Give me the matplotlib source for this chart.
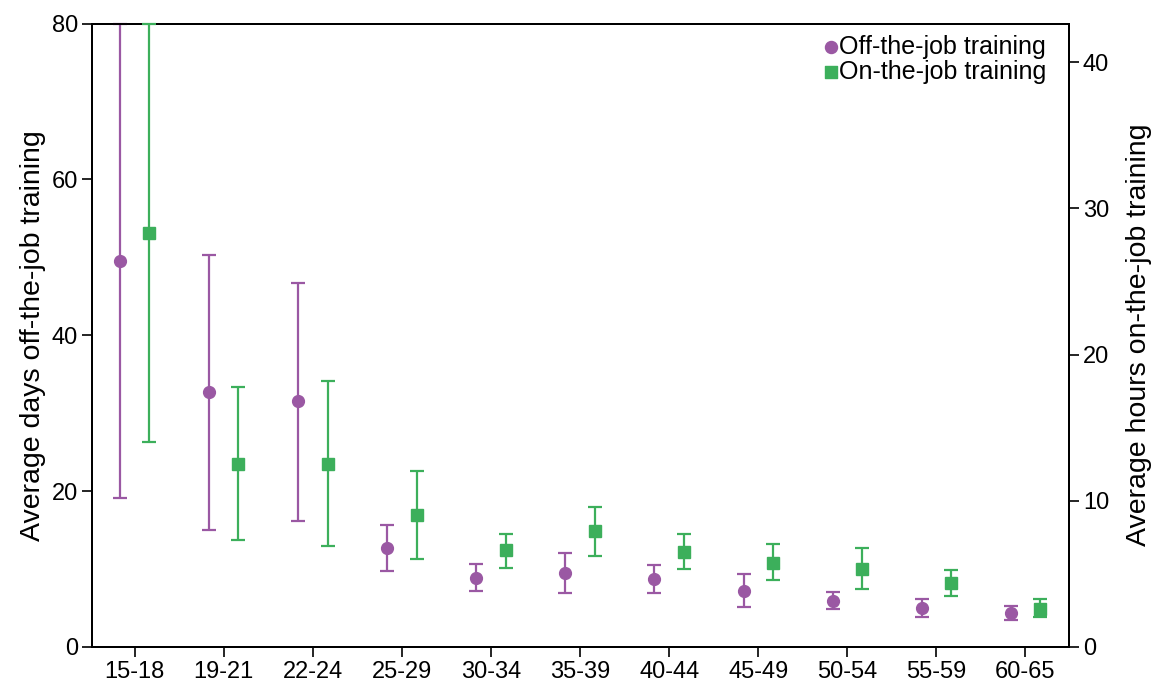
import numpy as np
import matplotlib
matplotlib.use("Agg")
import matplotlib.pyplot as plt

# ---------------- DATA ----------------
age_groups = ["15-18", "19-21", "22-24", "25-29", "30-34", "35-39",
              "40-44", "45-49", "50-54", "55-59", "60-65"]

# off-the-job training, average days (left axis)
off_mean = [49.5, 32.7, 31.5, 12.7, 8.9, 9.45, 8.7, 7.2, 5.9, 4.95, 4.4]
off_low = [19.1, 15.05, 16.2, 9.8, 7.2, 6.9, 6.9, 5.1, 4.85, 3.85, 3.5]
off_high = [80.0, 50.3, 46.7, 15.7, 10.6, 12.0, 10.55, 9.3, 7.0, 6.1, 5.25]

# on-the-job training, average hours (right axis)
on_mean = [28.3, 12.5, 12.5, 9.0, 6.6, 7.95, 6.5, 5.75, 5.35, 4.4, 2.6]
on_low = [14.0, 7.3, 6.9, 6.05, 5.4, 6.25, 5.35, 4.55, 3.95, 3.5, 2.05]
on_high = [42.65, 17.8, 18.2, 12.05, 7.75, 9.6, 7.7, 7.05, 6.8, 5.25, 3.25]

PURPLE = "#9a58a3"
GREEN = "#3caf5b"

plt.rcParams["font.family"] = ["Liberation Sans", "DejaVu Sans"]
plt.rcParams["font.size"] = 17


def err(mean, low, high):
    mean = np.asarray(mean)
    return np.vstack([mean - np.asarray(low), np.asarray(high) - mean])


def main():
    fig = plt.figure(figsize=(11.57, 6.86), dpi=100)
    ax = fig.add_axes([0.0795, 0.0569, 0.8445, 0.9088])
    ax2 = ax.twinx()

    x = np.arange(len(age_groups))
    off = 0.165

    ax.errorbar(x - off, off_mean, yerr=err(off_mean, off_low, off_high),
                fmt="o", color=PURPLE, ecolor=PURPLE, ms=8.5, elinewidth=1.6,
                capsize=4.7, capthick=1.6, clip_on=False, zorder=3)
    ax2.errorbar(x + off, on_mean, yerr=err(on_mean, on_low, on_high),
                 fmt="s", color=GREEN, ecolor=GREEN, ms=8.5, elinewidth=1.6,
                 capsize=4.7, capthick=1.6, clip_on=False, zorder=3)

    ax.set_xlim(-0.48, 10.49)
    ax.set_ylim(0, 80)
    ax2.set_ylim(0, 42.65)
    ax.set_yticks([0, 20, 40, 60, 80])
    ax2.set_yticks([0, 10, 20, 30, 40])
    ax.set_xticks(x)
    ax.set_xticklabels(age_groups)

    for a in (ax, ax2):
        for s in a.spines.values():
            s.set_linewidth(1.4)
        a.tick_params(direction="out", length=7, width=1.2, labelsize=17, pad=3)

    ax.set_ylabel("Average days off-the-job training", fontsize=20.5, labelpad=4)
    ax2.set_ylabel("Average hours on-the-job training", fontsize=20.5,
                   rotation=90, labelpad=12)

    # legend handles drawn as plain markers
    h1 = ax.scatter([], [], marker="o", s=75, color=PURPLE)
    h2 = ax.scatter([], [], marker="s", s=75, color=GREEN)
    ax.legend([h1, h2], ["Off-the-job training", "On-the-job training"],
              loc="upper right", bbox_to_anchor=(0.995, 1.01), frameon=False,
              handletextpad=-0.15, labelspacing=0.05, handlelength=1.0,
              borderpad=0.2, fontsize=18)

    fig.savefig("out.png", dpi=100)


if __name__ == "__main__":
    main()
